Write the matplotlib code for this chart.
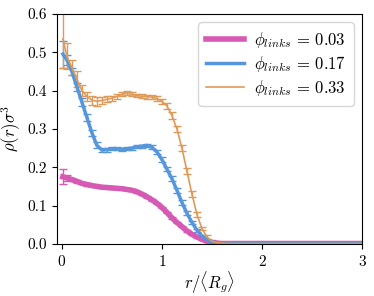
import matplotlib
matplotlib.use('Agg')
import matplotlib.pyplot as plt
from matplotlib.lines import Line2D

plt.rcParams['mathtext.fontset'] = 'cm'
plt.rcParams['font.family'] = 'serif'
plt.rcParams['font.serif'] = ['cmr10', 'DejaVu Serif']
plt.rcParams['axes.formatter.use_mathtext'] = True

# radial positions r/<Rg>
r = [0.01, 0.05, 0.1, 0.15, 0.2, 0.25, 0.3, 0.35, 0.4, 0.45, 0.5, 0.55, 0.6, 0.65,
     0.7, 0.75, 0.8, 0.85, 0.9, 0.95, 1.0, 1.05, 1.1, 1.15, 1.2, 1.25, 1.3, 1.35,
     1.4, 1.45, 1.5, 1.55, 1.6, 1.7, 1.8, 1.9, 2.0, 2.2, 2.4, 2.6, 2.8, 3.0]

rho_003 = [0.175, 0.172, 0.168, 0.163, 0.158, 0.155, 0.152, 0.150, 0.148, 0.147, 0.146, 0.145, 0.144, 0.142,
           0.140, 0.136, 0.130, 0.123, 0.115, 0.106, 0.095, 0.082, 0.068, 0.056, 0.045, 0.034, 0.025, 0.018,
           0.012, 0.007, 0.004, 0.002, 0.001, 0.001, 0.001, 0.001, 0.001, 0.001, 0.001, 0.001, 0.001, 0.001]
err_003 = [0.02, 0.008, 0.005, 0.004, 0.003, 0.003, 0.002, 0.002, 0.002, 0.002, 0.002, 0.002, 0.002, 0.002,
           0.002, 0.002, 0.002, 0.002, 0.002, 0.002, 0.002, 0.002, 0.002, 0.002, 0.002, 0.002, 0.002, 0.002,
           0.001, 0.001, 0.001, 0.001, 0.001, 0.001, 0.001, 0.001, 0.001, 0.001, 0.001, 0.001, 0.001, 0.001]

rho_017 = [0.495, 0.48, 0.45, 0.41, 0.37, 0.33, 0.29, 0.257, 0.245, 0.246, 0.248, 0.248, 0.247, 0.248,
           0.25, 0.253, 0.255, 0.257, 0.252, 0.24, 0.22, 0.195, 0.17, 0.14, 0.108, 0.08, 0.056, 0.036,
           0.021, 0.011, 0.005, 0.003, 0.002, 0.001, 0.001, 0.001, 0.001, 0.001, 0.001, 0.001, 0.001, 0.001]
err_017 = [0.035, 0.012, 0.01, 0.01, 0.01, 0.009, 0.008, 0.008, 0.006, 0.005, 0.004, 0.004, 0.004, 0.004,
           0.004, 0.004, 0.004, 0.004, 0.005, 0.006, 0.006, 0.006, 0.006, 0.006, 0.006, 0.005, 0.005, 0.004,
           0.003, 0.003, 0.002, 0.002, 0.002, 0.001, 0.001, 0.001, 0.001, 0.001, 0.001, 0.001, 0.001, 0.001]

rho_033 = [0.535, 0.49, 0.46, 0.43, 0.40, 0.385, 0.375, 0.372, 0.374, 0.377, 0.38, 0.385, 0.39, 0.393,
           0.39, 0.387, 0.385, 0.384, 0.383, 0.379, 0.372, 0.36, 0.335, 0.30, 0.25, 0.19, 0.13, 0.077,
           0.04, 0.018, 0.007, 0.003, 0.002, 0.001, 0.001, 0.001, 0.001, 0.001, 0.001, 0.001, 0.001, 0.001]
err_033 = [0.075, 0.035, 0.02, 0.02, 0.015, 0.012, 0.012, 0.012, 0.01, 0.008, 0.007, 0.006, 0.005, 0.005,
           0.005, 0.005, 0.005, 0.005, 0.005, 0.006, 0.006, 0.008, 0.008, 0.008, 0.008, 0.008, 0.007, 0.006,
           0.005, 0.004, 0.003, 0.002, 0.002, 0.001, 0.001, 0.001, 0.001, 0.001, 0.001, 0.001, 0.001, 0.001]

labels = [r'$\phi_{links}\,=\,0.03$', r'$\phi_{links}\,=\,0.17$', r'$\phi_{links}\,=\,0.33$']
colors = ['#d65ab4', '#5596dc', '#e09a58']
widths = [4, 2.5, 1.2]

fig = plt.figure(figsize=(3.74, 2.96), dpi=100)
ax = fig.add_axes([0.152, 0.176, 0.816, 0.777])

series = [(rho_003, err_003), (rho_017, err_017), (rho_033, err_033)]
for (y, e), c, w in zip(series, colors, widths):
    ax.errorbar(r, y, yerr=e, color=c, lw=w, elinewidth=1, capsize=3)

ax.set_xlim(-0.05, 3)
ax.set_ylim(0, 0.6)
ax.set_xticks([0, 1, 2, 3])
ax.set_yticks([0.0, 0.1, 0.2, 0.3, 0.4, 0.5, 0.6])
ax.set_yticklabels(['0.0', '0.1', '0.2', '0.3', '0.4', '0.5', '0.6'])
ax.tick_params(labelsize=11)
ax.set_xlabel(r'$r/\langle R_g\rangle$', fontsize=12, labelpad=1)
ax.set_ylabel(r'$\rho(r)\sigma^3$', fontsize=12, labelpad=3)

handles = [Line2D([], [], color=c, lw=w) for c, w in zip(colors, widths)]
ax.legend(handles, labels, loc='upper right', fontsize=12, handlelength=2.3,
          labelspacing=0.25, borderpad=0.45, handletextpad=0.6)

fig.savefig('out.png', dpi=100)
